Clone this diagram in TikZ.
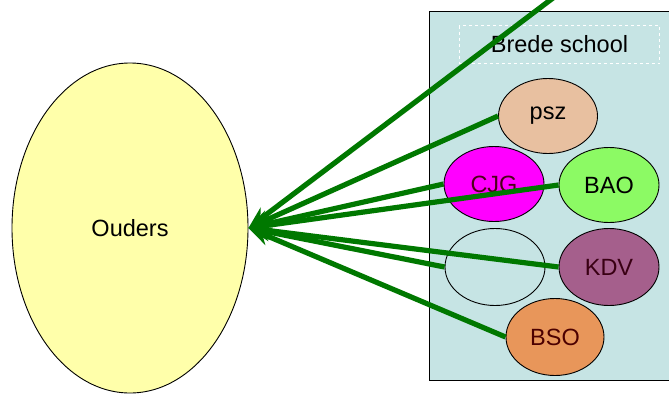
\documentclass[tikz,border=0pt]{standalone}
\usepackage{fontspec}
\setmainfont{Liberation Sans}
\usetikzlibrary{shapes.geometric,arrows.meta}
\definecolor{yel}{RGB}{255,255,170}
\definecolor{boxc}{RGB}{198,228,228}
\definecolor{pszc}{RGB}{232,192,160}
\definecolor{cjgc}{RGB}{255,0,255}
\definecolor{baoc}{RGB}{140,250,100}
\definecolor{kdvc}{RGB}{165,95,140}
\definecolor{bsoc}{RGB}{232,150,90}
\definecolor{lgreen}{RGB}{0,120,0}
\tikzset{
  lbl/.style={font=\fontsize{23.5}{28}\selectfont},
  oval/.style={ellipse, draw=black, line width=0.9pt, inner sep=0pt, minimum width=100pt, minimum height=75pt, lbl},
  conn/.style={draw=lgreen, line width=5.2pt, {Stealth[length=22pt,width=18pt]}-}
}
\begin{document}
\begin{tikzpicture}[x=1pt,y=-1pt]
\useasboundingbox (0,0) rectangle (669,394);
\clip (0,0) rectangle (669,394);
\fill[white] (0,0) rectangle (669,394);
\node[ellipse, draw=black, line width=0.9pt, fill=yel, minimum width=236pt, minimum height=330pt, inner sep=0pt, lbl] (ouders) at (130,228) {Ouders};
\node[draw=black, line width=0.9pt, fill=boxc, minimum width=260pt, minimum height=369pt, inner sep=0pt, anchor=north west] (bs) at (429,11) {};
\node[draw=white, dashed, line width=1pt, minimum width=200pt, minimum height=38pt, inner sep=0pt, anchor=north west, lbl] (title) at (459,25) {Brede school};
\node[oval, fill=pszc, minimum width=99pt] (psz) at (548,116) {psz};
\node[oval, fill=cjgc, text=black!60!purple] (cjg) at (494,184) {CJG};
\node[oval, fill=baoc] (bao) at (609,185) {BAO};
\node[oval, minimum height=77pt] (empty) at (495,267) {};
\node[oval, fill=kdvc, minimum height=77pt, text=black!70!purple] (kdv) at (609,267) {KDV};
\node[oval, fill=bsoc, minimum width=98pt, minimum height=77pt, text=black!70!red] (bso) at (555,337) {BSO};
\coordinate (topend) at (553,-2);
\draw[conn] (ouders.east) -- (topend);
\draw[conn] (ouders.east) -- (psz.west);
\draw[conn] (ouders.east) -- (cjg.west);
\draw[conn] (ouders.east) -- (bao.west);
\draw[conn] (ouders.east) -- (empty.west);
\draw[conn] (ouders.east) -- (kdv.west);
\draw[conn] (ouders.east) -- (bso.west);
\end{tikzpicture}
\end{document}
